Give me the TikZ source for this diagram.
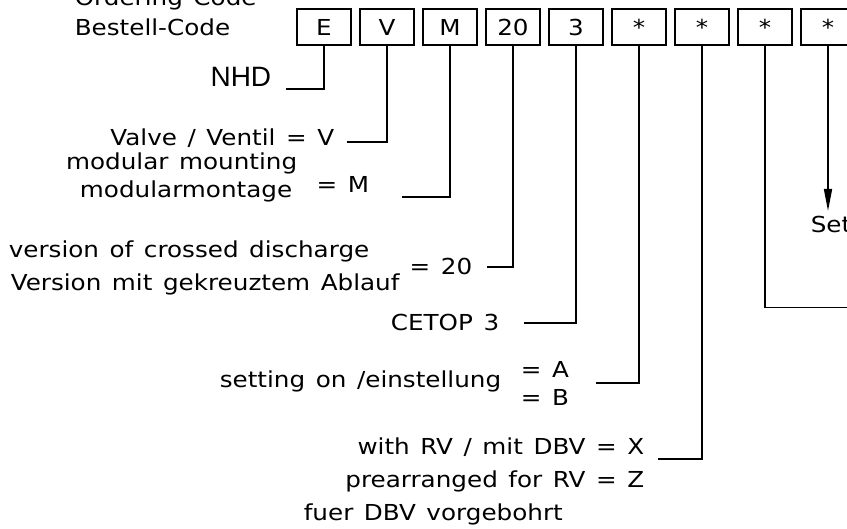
\documentclass[tikz,border=0pt]{standalone}
\usepackage{fontspec}
\usetikzlibrary{arrows.meta}
\newfontfamily\cadfont[FakeStretch=1.12,WordSpace=1.35]{DejaVu Sans}
\newfontfamily\arialfont{Liberation Sans}
\newcommand\cadtext{\cadfont\fontsize{22}{26}\selectfont}

\begin{document}
\begin{tikzpicture}[x=1pt, y=-1pt, line width=1.6pt,
  every node/.style={font=\cadtext, inner sep=0pt},
  codebox/.style={draw, minimum width=54pt, minimum height=36pt},
  lbl/.style={anchor=base east},
  lblw/.style={anchor=base west}]
  \useasboundingbox (0,0) rectangle (847,529);
  \clip (0,0) rectangle (847,529);

  % code fields
  \node[lblw] (ordering) at (74,6) {Ordering Code};
  \node[lblw] (bestell) at (74,36) {Bestell-Code};
  \foreach \sym [count=\i] in {E,V,M,20,3,*,*,*,*}
    \node[codebox] (b\i) at ({261+63*\i},27) {\sym};

  % descriptions
  \node[lbl, font=\arialfont\fontsize{28}{32}\selectfont] (nhd) at (272,87) {NHD};
  \node[lbl] (valve) at (335,146) {Valve / Ventil = V};
  \node[lbl] (modA) at (298,170) {modular mounting};
  \node[lbl] (modB) at (293,198) {modularmontage};
  \node[lbl] (modM) at (370,193) {= M};
  \node[lblw] (verA) at (8,258) {version of crossed discharge};
  \node[lblw] (verB) at (10,291) {Version mit gekreuztem Ablauf};
  \node[lbl] (ver20) at (473,275) {= 20};
  \node[lbl] (cetop) at (500,331) {CETOP 3};
  \node[lbl] (setting) at (502,388) {setting on /einstellung};
  \node[lblw] (setA) at (520,378) {= A};
  \node[lblw] (setB) at (520,406) {= B};
  \node[lbl] (rvX) at (645,455) {with RV / mit DBV = X};
  \node[lbl] (rvZ) at (645,488) {prearranged for RV = Z};
  \node[lblw] (rvDBV) at (303,520) {fuer DBV vorgebohrt};
  \node[lblw] (setlbl) at (810,233) {Set};

  \coordinate (nhdend) at (286,89);
  \coordinate (valveend) at (347,142);
  \coordinate (modend) at (402,197);
  \coordinate (verend) at (487,267);
  \coordinate (cetopend) at (524,323);
  \coordinate (settingend) at (596,383);
  \coordinate (rvend) at (658,459);
  \coordinate (rightend) at (870,307.5);
  \coordinate (arrowend) at (828,211);

  % leaders
  \draw (b1.south) |- (nhdend);
  \draw (b2.south) |- (valveend);
  \draw (b3.south) |- (modend);
  \draw (b4.south) |- (verend);
  \draw (b5.south) |- (cetopend);
  \draw (b6.south) |- (settingend);
  \draw (b7.south) |- (rvend);
  \draw (b8.south) |- (rightend);
  \draw[-{Triangle[length=22pt,width=8pt]}] (b9.south) -- (arrowend);
\end{tikzpicture}
\end{document}
